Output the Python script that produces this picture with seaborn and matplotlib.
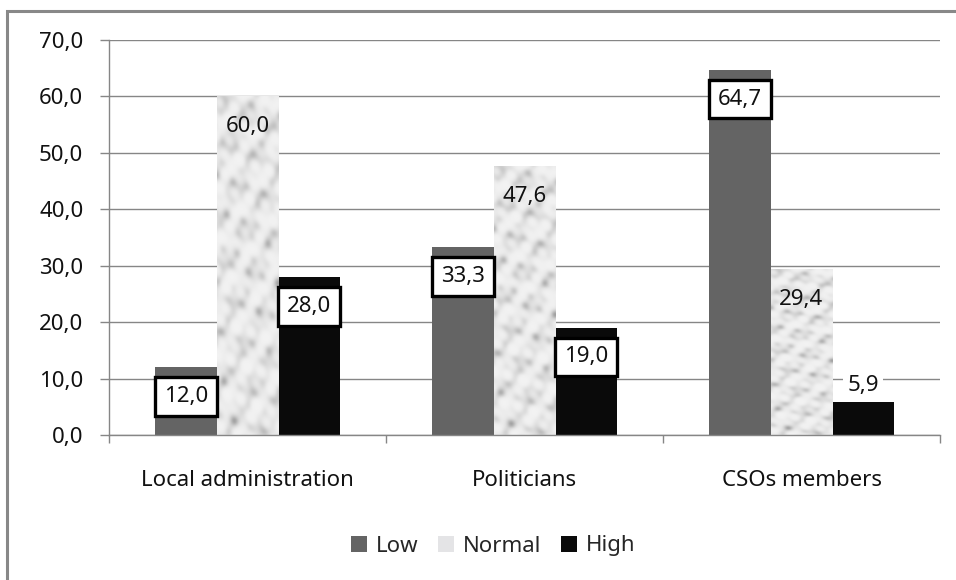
import numpy as np
import pandas as pd
import matplotlib
matplotlib.use("Agg")
import matplotlib.pyplot as plt
import seaborn as sns
from matplotlib.patches import Rectangle

categories = ["Local administration", "Politicians", "CSOs members"]
levels = ["Low", "Normal", "High"]
low_vals = [12.0, 33.3, 64.7]
normal_vals = [60.0, 47.6, 29.4]
high_vals = [28.0, 19.0, 5.9]
yticks = [0, 10, 20, 30, 40, 50, 60, 70]

rows = []
for lvl, vals in zip(levels, [low_vals, normal_vals, high_vals]):
    for c, v in zip(categories, vals):
        rows.append({"cat": c, "level": lvl, "value": v})
df = pd.DataFrame(rows)

sns.set_theme(style="white")
plt.rcParams["font.family"] = ["Noto Sans", "DejaVu Sans"]

FS = 16
fig = plt.figure(figsize=(9.56, 5.8), dpi=100)
ax = fig.add_axes([109/956, 1-435/580, (940-109)/956, (435-40)/580])

palette = {"Low": "#646464", "Normal": "#dedede", "High": "#0a0a0a"}
sns.barplot(data=df, x="cat", y="value", hue="level", order=categories,
            hue_order=levels, palette=palette, width=2/3, gap=0,
            saturation=1, legend=False, ax=ax, linewidth=0, zorder=2)

ax.set_xlim(-0.5, 2.5)
ax.set_ylim(0, 70)
ax.set_yticks(yticks)
ax.set_yticklabels([f"{t:.1f}".replace(".", ",") for t in yticks], fontsize=FS, color="#111111")
ax.yaxis.grid(True, color="#868686", linewidth=1.0, zorder=0)
ax.set_axisbelow(True)
ax.set_xlabel("")
ax.set_ylabel("")
for s in ["top", "right"]:
    ax.spines[s].set_visible(False)
for s in ["left", "bottom"]:
    ax.spines[s].set_color("#868686")
    ax.spines[s].set_linewidth(1.0)
ax.tick_params(axis="y", which="major", left=True, length=6.5, width=1.0, color="#868686", pad=12)
ax.set_xticks([0, 1, 2])
ax.set_xticklabels(categories, fontsize=FS, color="#111111")
ax.tick_params(axis="x", which="major", bottom=False, length=0, pad=25)
ax.set_xticks([-0.5, 0.5, 1.5, 2.5], minor=True)
ax.tick_params(axis="x", which="minor", bottom=True, length=5.5, width=1.0, color="#868686")

# soft marble-like mottling for the "Normal" bars (purely decorative)
yy, xx = np.mgrid[0:340, 0:62].astype(float)
field = (np.sin(xx*0.19 + yy*0.11 + 0.4) + 0.8*np.sin(xx*0.07 - yy*0.16 + 1.9)
         + 0.6*np.sin(xx*0.31 + yy*0.23 + 2.7) + 0.45*np.sin(xx*0.13 - yy*0.37 + 0.3)
         + 0.35*np.sin(xx*0.43 + yy*0.05 + 4.1) + 0.3*np.sin(xx*0.52 - yy*0.29 + 5.3))
field = (field - field.min()) / (field.max() - field.min())
tex = 0.95 - 0.32*field**3
tex_rgb = np.dstack([tex, tex, tex])

containers = ax.containers
normal_cont = containers[1]
for p in normal_cont:
    x0 = p.get_x(); w = p.get_width(); h = p.get_height()
    im = ax.imshow(tex_rgb, extent=(x0, x0+w, 0, h), aspect="auto",
                   zorder=2.5, interpolation="bilinear")
    im.set_clip_path(p)
ax.set_xlim(-0.5, 2.5)
ax.set_ylim(0, 70)

box = dict(boxstyle="square,pad=0.4", facecolor="white", edgecolor="black", linewidth=2.4)
for ci, cont in enumerate(containers):
    for p, lvl_val in zip(cont, [low_vals, normal_vals, high_vals][ci]):
        xc = p.get_x() + p.get_width()/2
        h = p.get_height()
        txt = f"{lvl_val:.1f}".replace(".", ",")
        if ci == 1:
            ax.annotate(txt, (xc, h), xytext=(0, -22), textcoords="offset points",
                        ha="center", va="center", fontsize=FS, color="#111111", zorder=5)
        elif h < 10:
            ax.annotate(txt, (xc, h), xytext=(0, 12), textcoords="offset points",
                        ha="center", va="center", fontsize=FS, color="#111111", zorder=5,
                        bbox=dict(boxstyle="square,pad=0.2", facecolor="white", edgecolor="none"))
        else:
            ax.annotate(txt, (xc, h), xytext=(0, -21), textcoords="offset points",
                        ha="center", va="center", fontsize=FS, color="#111111", zorder=5,
                        bbox=box)

# legend
handles = [Rectangle((0, 0), 1, 1, facecolor=palette[l], edgecolor="none") for l in levels]
handles[1].set_facecolor("#e4e4e6")
fig.legend(handles, levels, loc="center", bbox_to_anchor=(493/956, 1-546/580), ncol=3,
           frameon=False, fontsize=FS, handlelength=0.7, handleheight=0.7,
           handletextpad=0.4, columnspacing=0.9)

# chart frame
fig.add_artist(Rectangle((7/956, -0.1), 1.2, 1-10.5/580 + 0.1, transform=fig.transFigure,
                         fill=False, edgecolor="#888888", linewidth=2.2))

fig.savefig("out.png", dpi=100, facecolor="white")
